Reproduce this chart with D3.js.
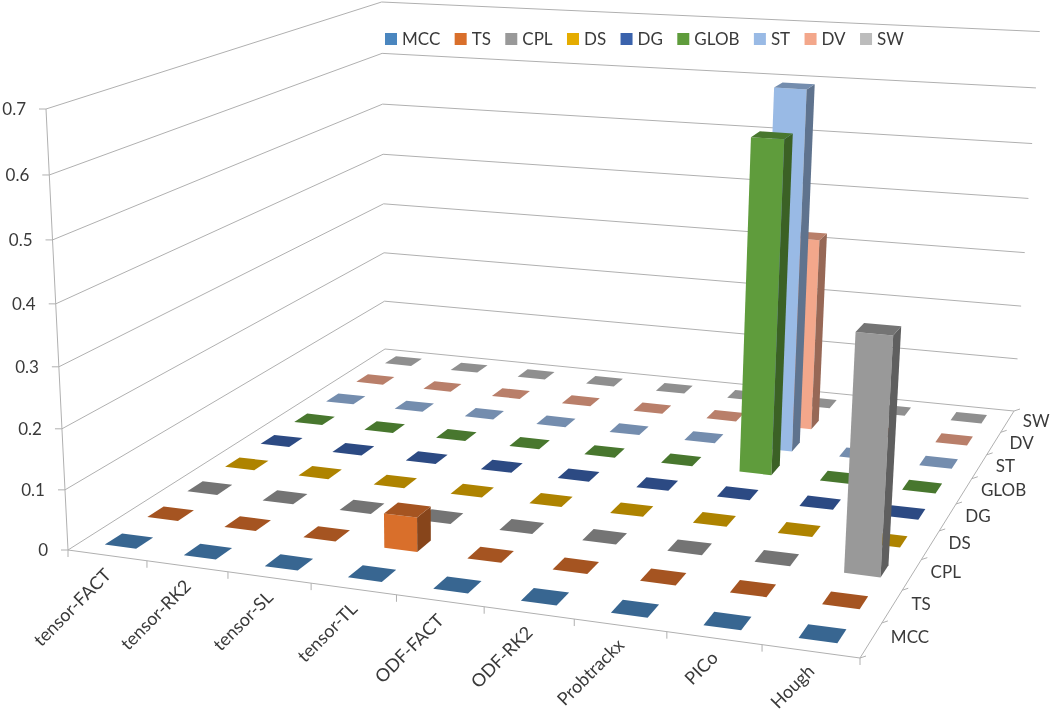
<!DOCTYPE html>
<html>
<head>
<meta charset="utf-8">
<script src="https://cdn.jsdelivr.net/npm/d3@7"></script>
<style>
  html, body { margin: 0; padding: 0; background: #fff; }
  svg { display: block; filter: blur(0.5px); }
  text { font-family: Lato, 'Open Sans', sans-serif; fill: #3a3a3a; }
</style>
</head>
<body>
<div id="chart"></div>
<script>
const categories = ['tensor-FACT', 'tensor-RK2', 'tensor-SL', 'tensor-TL', 'ODF-FACT', 'ODF-RK2', 'Probtrackx', 'PICo', 'Hough'];
const seriesNames = ['MCC', 'TS', 'CPL', 'DS', 'DG', 'GLOB', 'ST', 'DV', 'SW'];
const seriesColors = ['#4a86bf', '#d96f2b', '#999999', '#e5ac00', '#3a62ac', '#5f9c3c', '#99bae5', '#f3a78b', '#bcbcbc'];

const mcc = [0, 0, 0, 0, 0, 0, 0, 0, 0];
const ts = [0, 0, 0, 0.057, 0, 0, 0, 0, 0];
const cpl = [0, 0, 0, 0, 0, 0, 0, 0, 0.38];
const ds = [0, 0, 0, 0, 0, 0, 0, 0, 0];
const dg = [0, 0, 0, 0, 0, 0, 0, 0, 0];
const glob = [0, 0, 0, 0, 0, 0, 0.58, 0, 0];
const st = [0, 0, 0, 0, 0, 0, 0.64, 0, 0];
const dv = [0, 0, 0, 0, 0, 0, 0.35, 0, 0];
const sw = [0, 0, 0, 0, 0, 0, 0, 0, 0];
const seriesValues = [mcc, ts, cpl, ds, dg, glob, st, dv, sw];

const width = 1050;
const height = 713;

// screen positions of the chart box corners, the camera is fitted to them
const origin = [68, 550];
const frontRight = [860, 658];
const backLeft = [385, 349];
const backRight = [1014, 411];
const topLeft = [46, 109];
const topBackLeft = [380, 2];

const dx1 = frontRight[0] - backRight[0];
const dx2 = backLeft[0] - backRight[0];
const dy1 = frontRight[1] - backRight[1];
const dy2 = backLeft[1] - backRight[1];
const sx = origin[0] - frontRight[0] + backRight[0] - backLeft[0];
const sy = origin[1] - frontRight[1] + backRight[1] - backLeft[1];
const den = dx1 * dy2 - dx2 * dy1;
const gx = (sx * dy2 - dx2 * sy) / den;
const gz = (dx1 * sy - sx * dy1) / den;
const ax = [0, 1].map(i => frontRight[i] - origin[i] + gx * frontRight[i]);
const az = [0, 1].map(i => backLeft[i] - origin[i] + gz * backLeft[i]);
const cz = az[1];
const gy = (topBackLeft[1] * (1 + gz) - topLeft[1] - cz) / (topLeft[1] - topBackLeft[1]);
const ay = [0, 1].map(i => topLeft[i] * (1 + gy) - origin[i]);

// x, y, z in 0..1 box coordinates
function project(x, y, z) {
  const w = 1 + gx * x + gy * y + gz * z;
  return [0, 1].map(i => (origin[i] + ax[i] * x + ay[i] * y + az[i] * z) / w);
}

const x = d3.scaleBand()
  .domain(categories)
  .range([0, 1])
  .paddingInner(0.6)
  .paddingOuter(0.3);

const z = d3.scaleBand()
  .domain(seriesNames)
  .range([0, 1])
  .paddingInner(0.6)
  .paddingOuter(0.3);

const y = d3.scaleLinear()
  .domain([0, 0.7])
  .range([0, 1]);

const svg = d3.select('#chart')
  .append('svg')
  .attr('width', width)
  .attr('height', height);

const line = d3.line();
const gridColor = '#b0b0b0';

// walls
const grid = svg.append('g')
  .attr('fill', 'none')
  .attr('stroke', gridColor)
  .attr('stroke-width', 1);

y.ticks(7).forEach((t) => {
  grid.append('path')
    .attr('d', line([
      project(0, y(t), 0),
      project(0, y(t), 1),
      project(1, y(t), 1),
    ]));
  const p = project(0, y(t), 0);
  grid.append('path')
    .attr('d', line([[p[0] - 7, p[1]], p]));
});

// floor and value axis
grid.append('path').attr('d', line([project(0, 0, 0), project(0, 1, 0)]));
grid.append('path').attr('d', line([project(0, 0, 0), project(1, 0, 0), project(1, 0, 1)]));

const step = 1 / categories.length;
d3.range(categories.length + 1).forEach((i) => {
  const p = project(i * step, 0, 0);
  grid.append('path').attr('d', line([p, [p[0], p[1] + 7]]));
});
d3.range(seriesNames.length + 1).forEach((i) => {
  const p = project(1, 0, i * step);
  grid.append('path').attr('d', line([p, [p[0] + 6, p[1] - 2]]));
});

// bars, back rows first
const bars = [];
seriesNames.forEach((name, s) => {
  categories.forEach((category, c) => {
    bars.push({
      category,
      name,
      value: seriesValues[s][c],
      color: seriesColors[s],
    });
  });
});
bars.sort((a, b) => d3.descending(z(a.name), z(b.name)) || d3.ascending(x(a.category), x(b.category)));

const barGroups = svg.append('g')
  .selectAll('g')
  .data(bars)
  .enter()
  .append('g');

function faces(d) {
  const x0 = x(d.category);
  const x1 = x0 + x.bandwidth();
  const z0 = z(d.name);
  const z1 = z0 + z.bandwidth();
  const h = y(d.value);
  return [
    { pts: [[x0, 0, z0], [x1, 0, z0], [x1, h, z0], [x0, h, z0]], shade: 1 },
    { pts: [[x1, 0, z0], [x1, 0, z1], [x1, h, z1], [x1, h, z0]], shade: 0.62 },
    { pts: [[x0, h, z0], [x1, h, z0], [x1, h, z1], [x0, h, z1]], shade: 0.76 },
  ].filter(f => h > 0 || f.shade === 0.76)
    .map(f => ({ ...f, color: d.color }));
}

barGroups.selectAll('path')
  .data(faces)
  .enter()
  .append('path')
  .attr('d', f => `${line(f.pts.map(p => project(p[0], p[1], p[2])))}Z`)
  .attr('fill', (f) => {
    const c = d3.rgb(f.color);
    return d3.rgb(c.r * f.shade, c.g * f.shade, c.b * f.shade);
  });

// value labels
svg.append('g')
  .selectAll('text')
  .data(y.ticks(7))
  .enter()
  .append('text')
  .attr('x', d => project(0, y(d), 0)[0] - 20)
  .attr('y', d => project(0, y(d), 0)[1] + 6)
  .attr('text-anchor', 'end')
  .style('font-size', '17px')
  .text(d => d3.format('~g')(d));

// category labels
svg.append('g')
  .selectAll('text')
  .data(categories)
  .enter()
  .append('text')
  .attr('transform', (d) => {
    const p = project(x(d) + x.bandwidth() / 2, 0, 0);
    return `translate(${p[0] + 5},${p[1] + 21}) rotate(-45)`;
  })
  .attr('text-anchor', 'end')
  .style('font-size', '18px')
  .text(d => d);

// series labels
const zLabelDx = d3.scaleLinear().domain([0, 1]).range([20, 15]);
const zLabelDy = d3.scaleLinear().domain([0, 1]).range([3, 6]);
svg.append('g')
  .selectAll('text')
  .data(seriesNames)
  .enter()
  .append('text')
  .attr('x', (d) => {
    const c = z(d) + z.bandwidth() / 2;
    return project(1, 0, c)[0] + zLabelDx(c);
  })
  .attr('y', (d) => {
    const c = z(d) + z.bandwidth() / 2;
    return project(1, 0, c)[1] + zLabelDy(c);
  })
  .style('font-size', '17px')
  .text(d => d);

// legend
let legendX = 385;
const legend = svg.append('g');
seriesNames.forEach((name, i) => {
  legend.append('rect')
    .attr('x', legendX)
    .attr('y', 33)
    .attr('width', 12)
    .attr('height', 12)
    .attr('fill', seriesColors[i]);
  const label = legend.append('text')
    .attr('x', legendX + 17)
    .attr('y', 45)
    .style('font-size', '17px')
    .text(name);
  legendX += 17 + label.node().getComputedTextLength() + 14.4;
});
</script>
</body>
</html>
